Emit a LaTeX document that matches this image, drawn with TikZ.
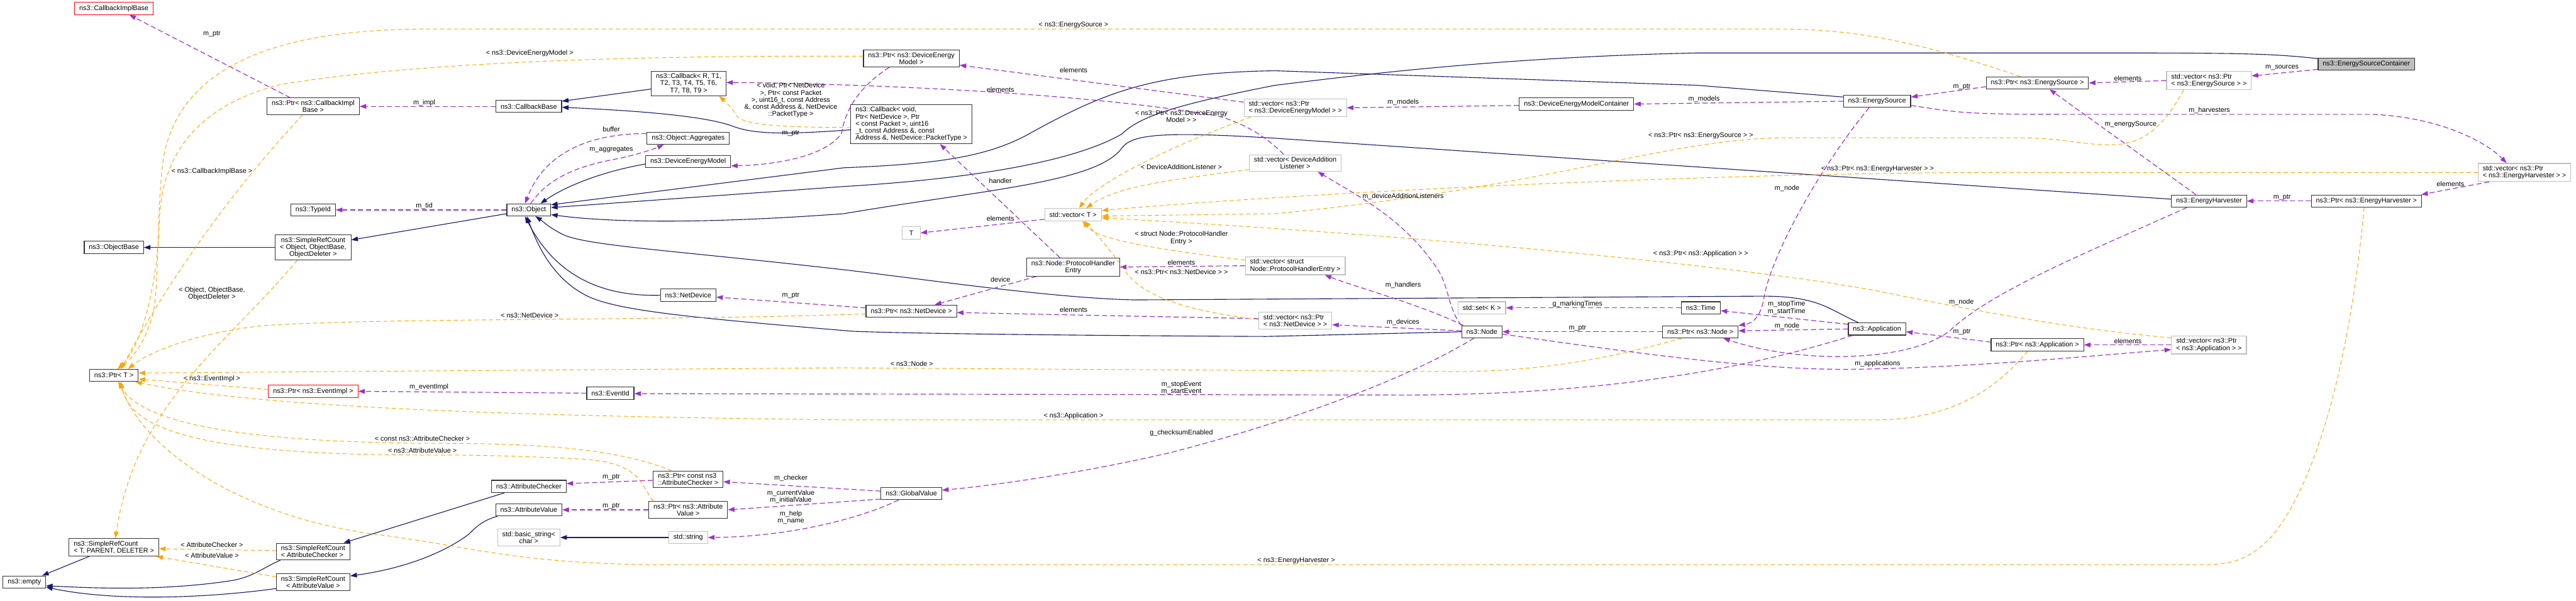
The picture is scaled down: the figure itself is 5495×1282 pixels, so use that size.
\documentclass[tikz,border=0pt]{standalone}
\usepackage{fontspec}
\setmainfont{Liberation Sans}
\usetikzlibrary{arrows.meta}
\definecolor{inhblue}{RGB}{25,25,112}
\definecolor{usepurple}{RGB}{154,50,205}
\definecolor{tplorange}{RGB}{255,165,0}
\definecolor{boxgray}{RGB}{191,191,191}
\begin{document}
\begin{tikzpicture}[x=1pt,y=-1pt,
  every node/.style={font=\fontsize{14.5}{15}\selectfont},
  cls/.style={draw=black!80,fill=white,line width=1.5pt,inner xsep=10pt,inner ysep=5pt,minimum height=26pt,align=center},
  ext/.style={cls,draw=boxgray},
  trunc/.style={cls,draw=red},
  lbl/.style={inner sep=0pt,align=center},
  inh/.style={draw=inhblue,line width=1.5pt,-{Triangle[length=14pt,width=10pt]}},
  usg/.style={draw=usepurple,line width=1.6pt,dash pattern=on 11pt off 6pt,-{Triangle[length=14pt,width=10pt]}},
  tpl/.style={draw=tplorange,line width=1.3pt,dash pattern=on 9pt off 6pt,-{Triangle[length=14pt,width=10pt]}}]
\useasboundingbox (0,0) rectangle (5495,1282);

\node[trunc] (cib) at (243,18) {ns3::CallbackImplBase};
\node[cls] (pcib) at (668,227) {ns3::Ptr< ns3::CallbackImpl\\Base >};
\node[cls] (tid) at (668,448) {ns3::TypeId};
\node[cls] (srco) at (668,528) {ns3::SimpleRefCount\\< Object, ObjectBase,\\ObjectDeleter >};
\node[cls] (obase) at (243,528) {ns3::ObjectBase};
\node[cls] (cbb) at (1128,227) {ns3::CallbackBase};
\node[cls] (cbr) at (1469,178) {ns3::Callback< R, T1,\\T2, T3, T4, T5, T6,\\T7, T8, T9 >};
\node[cls] (aggr) at (1468,295) {ns3::Object::Aggregates};
\node[cls] (dem) at (1468,345) {ns3::DeviceEnergyModel};
\node[cls] (obj) at (1128,448) {ns3::Object};
\node[cls] (netdev) at (1468,630) {ns3::NetDevice};
\node[cls] (pdem) at (1944,125) {ns3::Ptr< ns3::DeviceEnergy\\Model >};
\node[cls,align=left] (cbv) at (1944,265) {ns3::Callback< void,\\ Ptr< NetDevice >, Ptr\\< const Packet >, uint16\\\_t, const Address \&, const\\ Address \&, NetDevice::PacketType >};
\node[ext,minimum width=38pt] (tnode) at (1944,497) {T};
\node[ext] (vect) at (2289,458) {std::vector< T >};
\node[cls] (phe) at (2289,570) {ns3::Node::ProtocolHandler\\Entry};
\node[ext,align=left] (vpdem) at (2763,230) {std::vector< ns3::Ptr\\< ns3::DeviceEnergyModel > >};
\node[ext] (vdal) at (2763,348) {std::vector< DeviceAddition\\Listener >};
\node[ext,align=left] (vphe) at (2763,567) {std::vector< struct\\Node::ProtocolHandlerEntry >};
\node[cls] (pnd) at (1944,664) {ns3::Ptr< ns3::NetDevice >};
\node[ext,align=left] (vpnd) at (2763,684) {std::vector< ns3::Ptr\\< ns3::NetDevice > >};
\node[cls] (demc) at (3363,222) {ns3::DeviceEnergyModelContainer};
\node[cls] (esrc) at (4004,216) {ns3::EnergySource};
\node[cls] (pes) at (4346,177) {ns3::Ptr< ns3::EnergySource >};
\node[cls,fill=boxgray] (esc) at (5048,137) {ns3::EnergySourceContainer};
\node[ext,align=left] (vpes) at (4712,172) {std::vector< ns3::Ptr\\< ns3::EnergySource > >};
\node[ext,align=left] (vpeh) at (5385,368) {std::vector< ns3::Ptr\\< ns3::EnergyHarvester > >};
\node[cls] (eh) at (4712,429) {ns3::EnergyHarvester};
\node[cls] (peh) at (5048,429) {ns3::Ptr< ns3::EnergyHarvester >};
\node[cls] (ptrt) at (243,801) {ns3::Ptr< T >};
\node[trunc] (pevi) at (668,835) {ns3::Ptr< ns3::EventImpl >};
\node[cls,align=left] (srct) at (243,1168) {ns3::SimpleRefCount\\< T, PARENT, DELETER >};
\node[cls,align=left] (srcac) at (668,1177) {ns3::SimpleRefCount\\< AttributeChecker >};
\node[cls] (srcav) at (668,1242) {ns3::SimpleRefCount\\< AttributeValue >};
\node[cls] (empty) at (52,1242) {ns3::empty};
\node[cls] (evid) at (1302,839) {ns3::EventId};
\node[cls] (achk) at (1128,1038) {ns3::AttributeChecker};
\node[cls] (aval) at (1128,1088) {ns3::AttributeValue};
\node[ext] (bstr) at (1128,1147) {std::basic\_string<\\char >};
\node[ext] (str) at (1468,1147) {std::string};
\node[cls,align=left] (pac) at (1468,1023) {ns3::Ptr< const ns3\\::AttributeChecker >};
\node[cls] (pav) at (1468,1088) {ns3::Ptr< ns3::Attribute\\Value >};
\node[cls] (gval) at (1944,1053) {ns3::GlobalValue};
\node[ext] (setk) at (3161,657) {std::set< K >};
\node[cls] (nsnode) at (3161,708) {ns3::Node};
\node[cls] (nstime) at (3628,657) {ns3::Time};
\node[cls] (pnode) at (3627,708) {ns3::Ptr< ns3::Node >};
\node[cls] (app) at (4004,702) {ns3::Application};
\node[cls] (papp) at (4346,736) {ns3::Ptr< ns3::Application >};
\node[ext,align=left] (vpapp) at (4712,736) {std::vector< ns3::Ptr\\< ns3::Application > >};

\draw[inh] (srco.west) -- (obase.east);
\draw[inh] ([yshift=-8pt]obj.west) -- ([yshift=16pt]srco.east);
\draw[inh] ([yshift=-12pt]cbr.west) -- ([yshift=11pt]cbb.east);
\draw[inh] ([yshift=-12pt]cbv.west) .. controls (1680,287) and (1610,287) .. (1565,270) .. controls (1500,245) and (1330,235) .. ([yshift=-2pt]cbb.east);
\draw[inh] ([yshift=-5pt]dem.west) .. controls (1290,365) and (1210,395) .. ([xshift=25pt]obj.north);
\draw[inh] ([yshift=9pt]esrc.west) -- (3620,182) -- (2720,151) .. controls (2450,155) and (2350,200) .. (2187,290) .. controls (2100,335) and (2000,350) .. (1800,358) -- ([yshift=11pt]obj.east);
\draw[inh] ([yshift=12pt]esc.west) .. controls (4850,115) and (4800,113) .. (4500,113) -- (3620,113) .. controls (3200,122) and (2900,160) .. (2720,182) .. controls (2500,225) and (2430,250) .. (2393,286) .. controls (2300,340) and (2100,380) .. (1800,398) -- ([yshift=5pt]obj.east);
\draw[inh] ([yshift=4pt]eh.west) -- (2720,295) .. controls (2450,278) and (2410,290) .. (2390,320) .. controls (2330,390) and (2100,405) .. (1800,456) .. controls (1500,478) and (1300,475) .. ([yshift=-10pt]obj.east);
\draw[inh] (netdev.west) .. controls (1300,633) and (1190,600) .. ([xshift=-8pt]obj.south);
\draw[inh] (nsnode.west) -- (2700,718) .. controls (2300,716) and (1950,712) .. (1820,707) .. controls (1500,680) and (1330,665) .. (1260,635) .. controls (1180,600) and (1145,520) .. ([xshift=-4pt]obj.south);
\draw[inh] ([xshift=-40pt]app.north) .. controls (3900,660) and (3880,632) .. (3760,632) -- (2420,640) .. controls (2250,636) and (2000,600) .. (1820,578) .. controls (1450,535) and (1250,525) .. (1200,500) .. controls (1170,485) and (1155,470) .. ([xshift=14pt]obj.south);
\draw[inh] ([xshift=-53pt]srct.south) -- ([xshift=38pt]empty.north);
\draw[inh] ([xshift=-70pt]srcac.south) .. controls (560,1212) and (545,1228) .. (500,1238) .. controls (350,1262) and (200,1255) .. ([yshift=-8pt]empty.east);
\draw[inh] ([yshift=-14pt]srcav.west) .. controls (450,1275) and (250,1285) .. ([yshift=-11pt]empty.east);
\draw[inh] ([xshift=-52pt]achk.south) -- ([xshift=65pt]srcac.north);
\draw[inh] ([xshift=-67pt]aval.south) .. controls (1030,1110) and (1015,1125) .. (1000,1140) .. controls (940,1185) and (850,1215) .. ([yshift=13pt]srcav.east);
\draw[inh] (str.west) -- (bstr.east);

\draw[usg] ([xshift=-49pt]pcib.north) -- ([xshift=33pt]cib.south);
\draw[usg] (cbb.west) -- (pcib.east);
\draw[usg] (obj.west) -- (tid.east);
\draw[usg] ([yshift=10pt]aggr.west) .. controls (1250,285) and (1160,330) .. ([xshift=-8pt]obj.north);
\draw[usg] ([xshift=4pt]obj.north) .. controls (1170,380) and (1230,355) .. (1311,340) .. controls (1360,330) and (1395,318) .. ([xshift=-52pt]aggr.south);
\draw[usg] ([xshift=-47pt]pdem.south) .. controls (1810,200) and (1800,260) .. (1795,285) .. controls (1760,335) and (1650,352) .. ([yshift=-9pt]dem.east);
\draw[usg] ([yshift=12pt]vpdem.west) -- ([yshift=-14pt]pdem.east);
\draw[usg] ([xshift=-25pt]vdal.north) .. controls (2700,290) and (2650,262) .. (2600,248) .. controls (2300,195) and (1800,178) .. ([yshift=2pt]cbr.east);
\draw[usg] ([xshift=-28pt]phe.north) -- ([xshift=61pt]cbv.south);
\draw[usg] ([yshift=-10pt]vect.west) -- (tnode.east);
\draw[usg] ([xshift=-78pt]phe.south) -- ([xshift=50pt]pnd.north);
\draw[usg] (vphe.west) -- (phe.east);
\draw[usg] ([yshift=7pt]pnd.west) -- ([yshift=-4pt]netdev.east);
\draw[usg] ([yshift=4pt]vpnd.west) -- ([yshift=-3pt]pnd.east);
\draw[usg] ([yshift=-3pt]demc.west) -- (vpdem.east);
\draw[usg] (esrc.west) -- (demc.east);
\draw[usg] (nsnode.north west) .. controls (3090,660) and (3092,620) .. (3070,580) .. controls (3000,470) and (2900,420) .. ([xshift=48pt]vdal.south);
\draw[usg] ([xshift=4pt]nsnode.north west) .. controls (3030,650) and (2900,615) .. ([xshift=63pt]vphe.south);
\draw[usg] ([yshift=2pt]nsnode.west) -- ([yshift=-9pt]vpnd.east);
\draw[usg] (nstime.west) -- (setk.east);
\draw[usg] (pnode.west) -- (nsnode.east);
\draw[usg] ([xshift=-17pt]esrc.south) .. controls (3880,360) and (3775,550) .. (3762,640) .. controls (3755,675) and (3740,690) .. (pnode.north east);
\draw[usg] (app.west) -- ([yshift=2pt]pnode.east);
\draw[usg] ([xshift=-47pt]eh.south) .. controls (4450,540) and (4250,620) .. (4160,705) .. controls (4080,770) and (3850,780) .. ([xshift=49pt]pnode.south);
\draw[usg] ([yshift=10pt]app.west) -- ([yshift=-6pt]nstime.east);
\draw[usg] ([xshift=-52pt]app.south) .. controls (3750,780) and (3450,842) .. (3000,843) -- ([yshift=-1pt]evid.east);
\draw[usg] (evid.west) -- (pevi.east);
\draw[usg] ([yshift=-5pt]nsnode.east) .. controls (3500,755) and (3750,790) .. (3950,788) .. controls (4200,785) and (4450,760) .. ([yshift=-10pt]vpapp.west);
\draw[usg] ([yshift=6pt]papp.west) -- ([yshift=-6pt]app.east);
\draw[usg] (vpapp.west) -- (papp.east);
\draw[usg] ([yshift=-8pt]pes.west) -- ([yshift=9pt]esrc.east);
\draw[usg] (vpes.west) -- (pes.east);
\draw[usg] ([yshift=-11pt]esc.west) -- ([yshift=10pt]vpes.east);
\draw[usg] ([xshift=-28pt]eh.north) -- ([xshift=26pt]pes.south);
\draw[usg] ([yshift=-9pt]esrc.east) .. controls (4200,244) .. (4500,244) -- (5060,244) .. controls (5200,250) and (5300,300) .. ([xshift=-38pt]vpeh.north);
\draw[usg] (peh.west) -- (eh.east);
\draw[usg] ([xshift=-75pt]vpeh.south) -- ([xshift=117pt]peh.north);
\draw[usg] ([yshift=-2pt]pac.west) -- ([yshift=6pt]achk.east);
\draw[usg] (pav.west) -- (aval.east);
\draw[usg] ([yshift=5pt]gval.west) -- ([yshift=-5pt]pac.east);
\draw[usg] ([yshift=-12pt]gval.west) -- (pav.east);
\draw[usg] ([xshift=-27pt]gval.south) .. controls (1850,1100) and (1700,1145) .. (str.east);
\draw[usg] ([xshift=-17pt]nsnode.south) .. controls (3000,810) and (2750,900) .. (2500,965) .. controls (2300,1012) and (2100,1038) .. ([yshift=7pt]gval.east);

\draw[tpl] ([yshift=5pt]pdem.west) .. controls (1400,118) and (900,130) .. (600,180) .. controls (420,225) and (345,330) .. (340,470) .. controls (335,620) and (300,740) .. ([xshift=8pt]ptrt.north);
\draw[tpl] ([xshift=-36pt]pes.north) .. controls (4150,110) and (4000,62) .. (3800,62) -- (900,62) .. controls (520,64) and (380,180) .. (350,330) .. controls (335,420) and (340,560) .. (330,650) .. controls (320,710) and (290,760) .. ([xshift=8pt]ptrt.north);
\draw[tpl] ([xshift=-23pt]pcib.south) .. controls (520,380) and (380,560) .. ([xshift=15pt]ptrt.north);
\draw[tpl] ([yshift=-6pt]pnd.west) .. controls (1400,685) and (800,678) .. (560,695) .. controls (420,710) and (320,750) .. ([xshift=30pt]ptrt.north);
\draw[tpl] ([xshift=-40pt]pnode.south) .. controls (3450,760) and (3300,793) .. (3100,793) -- (1800,785) -- ([yshift=5pt]ptrt.east);
\draw[tpl] ([yshift=4pt]pevi.west) -- ([yshift=-8pt]ptrt.east);
\draw[tpl] ([xshift=-21pt]papp.south) .. controls (4250,840) and (4150,896) .. (4000,896) -- (1800,896) .. controls (1100,888) and (550,870) .. ([xshift=-7pt]ptrt.south east);
\draw[tpl] ([xshift=-35pt]pac.north) .. controls (1300,950) and (1100,946) .. (900,946) .. controls (500,942) and (300,900) .. ([xshift=9pt]ptrt.south);
\draw[tpl] ([xshift=-75pt]pav.north) .. controls (1365,1030) and (1365,990) .. (1250,980) .. controls (1050,970) and (950,971) .. (900,971) .. controls (480,970) and (280,930) .. ([xshift=15pt]ptrt.south);
\draw[tpl] ([xshift=-5pt]peh.south) .. controls (5020,700) and (4960,1000) .. (4850,1140) .. controls (4800,1195) and (4760,1205) .. (4700,1205) -- (1400,1205) .. controls (1100,1203) and (1000,1165) .. (800,1140) .. controls (500,1100) and (300,950) .. ([xshift=12pt]ptrt.south);
\draw[tpl] ([xshift=-34pt]srco.south) .. controls (480,740) and (290,860) .. ([xshift=3pt]srct.north);
\draw[tpl] ([yshift=2pt]srcac.west) -- ([yshift=-3pt]srct.east);
\draw[tpl] ([yshift=11pt]srcav.west) -- ([xshift=-6pt]srct.south east);
\draw[tpl] ([yshift=-7pt]cbv.west) .. controls (1650,272) and (1580,265) .. (1570,245) .. controls (1560,228) and (1545,215) .. ([xshift=65pt]cbr.south);
\draw[tpl] ([xshift=-95pt]vpdem.south) .. controls (2500,310) and (2340,390) .. ([xshift=13pt]vect.north);
\draw[tpl] ([yshift=-14pt]vdal.west) .. controls (2480,385) and (2380,400) .. ([xshift=28pt]vect.north);
\draw[tpl] (vpeh.west) -- (4200,368) .. controls (3600,372) and (2800,410) .. ([yshift=9pt]vect.east);
\draw[tpl] ([xshift=-54pt]vpes.south) .. controls (4620,260) and (4580,310) .. (4500,309) .. controls (4430,308) and (4400,294) .. (4300,294) -- (3800,294) .. controls (3550,298) and (3300,400) .. (2720,456) -- ([yshift=-3pt]vect.east);
\draw[tpl] ([yshift=15pt]vpapp.west) .. controls (4400,700) and (4200,660) .. (4000,620) .. controls (3700,565) and (3000,500) .. ([yshift=-7pt]vect.east);
\draw[tpl] ([yshift=12pt]vphe.west) .. controls (2450,530) and (2340,510) .. ([xshift=20pt]vect.south);
\draw[tpl] ([yshift=2pt]vpnd.west) .. controls (2550,665) and (2450,640) .. (2405,585) .. controls (2370,535) and (2335,495) .. ([xshift=24pt]vect.south);

\node[lbl] (l1) at (452,73) {m\_ptr};
\node[lbl] (l2) at (452,366) {< ns3::CallbackImplBase >};
\node[lbl] (l3) at (452,627) {< Object, ObjectBase,\\ObjectDeleter >};
\node[lbl] (l4) at (905,220) {m\_impl};
\node[lbl] (l5) at (905,440) {m\_tid};
\node[lbl] (l6) at (1130,113) {< ns3::DeviceEnergyModel >};
\node[lbl] (l7) at (1687,214) {< void, Ptr< NetDevice\\>, Ptr< const Packet\\>, uint16\_t, const Address\\\&, const Address \&, NetDevice\\::PacketType >};
\node[lbl] (l8) at (1304,276) {buffer};
\node[lbl] (l9) at (1304,319) {m\_aggregates};
\node[lbl] (l10) at (1687,284) {m\_ptr};
\node[lbl] (l11) at (1687,631) {m\_ptr};
\node[lbl] (l12) at (2290,54) {< ns3::EnergySource >};
\node[lbl] (l13) at (2290,150) {elements};
\node[lbl] (l14) at (2134,192) {elements};
\node[lbl] (l15) at (2520,248) {< ns3::Ptr< ns3::DeviceEnergy\\Model > >};
\node[lbl] (l16) at (2520,356) {< DeviceAdditionListener >};
\node[lbl] (l17) at (2134,386) {handler};
\node[lbl] (l18) at (2134,466) {elements};
\node[lbl] (l19) at (2520,508) {< struct Node::ProtocolHandler\\Entry >};
\node[lbl] (l20) at (2520,560) {elements};
\node[lbl] (l21) at (2520,580) {< ns3::Ptr< ns3::NetDevice > >};
\node[lbl] (l22) at (2134,597) {device};
\node[lbl] (l23) at (2993,218) {m\_models};
\node[lbl] (l24) at (3628,289) {< ns3::Ptr< ns3::EnergySource > >};
\node[lbl] (l25) at (2993,419) {m\_deviceAdditionListeners};
\node[lbl] (l26) at (3628,542) {< ns3::Ptr< ns3::Application > >};
\node[lbl] (l27) at (2993,608) {m\_handlers};
\node[lbl] (l28) at (3635,212) {m\_models};
\node[lbl] (l29) at (3365,649) {g\_markingTimes};
\node[lbl] (l30) at (4185,185) {m\_ptr};
\node[lbl] (l31) at (4005,361) {< ns3::Ptr< ns3::EnergyHarvester > >};
\node[lbl] (l32) at (3812,402) {m\_node};
\node[lbl] (l33) at (4545,266) {m\_energySource};
\node[lbl] (l34) at (4539,167) {elements};
\node[lbl] (l35) at (4868,145) {m\_sources};
\node[lbl] (l36) at (4713,235) {m\_harvesters};
\node[lbl] (l37) at (5227,393) {elements};
\node[lbl] (l38) at (4868,421) {m\_ptr};
\node[lbl] (l39) at (452,809) {< ns3::EventImpl >};
\node[lbl] (l40) at (452,1162) {< AttributeChecker >};
\node[lbl] (l41) at (452,1185) {< AttributeValue >};
\node[lbl] (l42) at (915,826) {m\_eventImpl};
\node[lbl] (l43) at (901,936) {< const ns3::AttributeChecker >};
\node[lbl] (l44) at (901,962) {< ns3::AttributeValue >};
\node[lbl] (l45) at (1130,673) {< ns3::NetDevice >};
\node[lbl] (l46) at (1304,1019) {m\_ptr};
\node[lbl] (l47) at (1304,1080) {m\_ptr};
\node[lbl] (l48) at (1687,1021) {m\_checker};
\node[lbl] (l49) at (1687,1060) {m\_currentValue\\m\_initialValue};
\node[lbl] (l50) at (1687,1104) {m\_help\\m\_name};
\node[lbl] (l51) at (2290,661) {elements};
\node[lbl] (l52) at (1945,776) {< ns3::Node >};
\node[lbl] (l53) at (2520,828) {m\_stopEvent\\m\_startEvent};
\node[lbl] (l54) at (2290,888) {< ns3::Application >};
\node[lbl] (l55) at (2520,924) {g\_checksumEnabled};
\node[lbl] (l56) at (2765,1197) {< ns3::EnergyHarvester >};
\node[lbl] (l57) at (2993,688) {m\_devices};
\node[lbl] (l58) at (3365,700) {m\_ptr};
\node[lbl] (l59) at (3811,657) {m\_stopTime\\m\_startTime};
\node[lbl] (l60) at (3812,696) {m\_node};
\node[lbl] (l61) at (4185,708) {m\_ptr};
\node[lbl] (l62) at (4005,777) {m\_applications};
\node[lbl] (l63) at (4184,645) {m\_node};
\node[lbl] (l64) at (4539,728) {elements};
\end{tikzpicture}
\end{document}
